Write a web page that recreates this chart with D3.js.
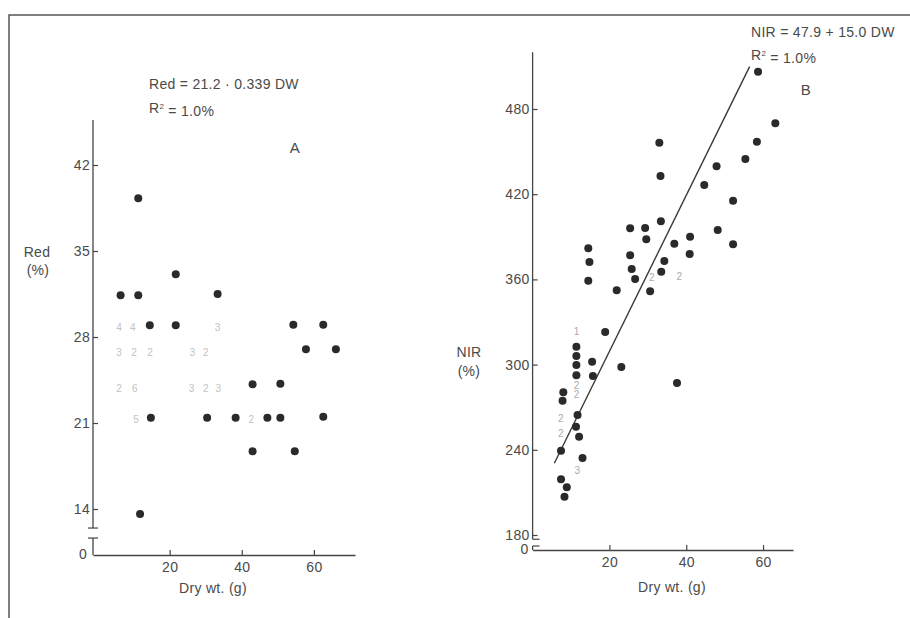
<!DOCTYPE html>
<html>
<head>
<meta charset="utf-8">
<script src="https://cdn.jsdelivr.net/npm/d3@7"></script>
<style>
  body { margin: 0; background: #fff; }
  svg { display: block; }
  text { font-family: "Liberation Sans", Arial, Helvetica, sans-serif; fill: #4a4a4a; letter-spacing: 0.3px; }
</style>
</head>
<body>
<svg id="chart" width="910" height="618"></svg>
<script>
// ---------- Data ----------
// Panel A: Red reflectance (%) vs dry weight (g)
const redX = [11.3, 21.7, 6.4, 11.3, 33.3, 14.5, 21.7, 54.3, 62.6, 57.8, 66.1, 43.0, 50.7,
              14.8, 30.4, 38.3, 47.1, 50.7, 62.6, 43.0, 54.7, 11.8];
const redY = [39.3, 33.1, 31.4, 31.4, 31.5, 28.95, 28.95, 29.0, 29.0, 27.0, 27.0, 24.15, 24.2,
              21.43, 21.43, 21.43, 21.43, 21.43, 21.5, 18.7, 18.7, 13.6];
// count labels (overlapping observations) in panel A
const redCountX = [6.0, 9.8, 33.3, 6.0, 10.2, 14.6, 26.3, 30.1, 6.0, 10.4, 26.1, 30.1, 33.5, 10.7, 42.7];
const redCountY = [28.8, 28.8, 28.8, 26.7, 26.7, 26.7, 26.7, 26.7, 23.8, 23.8, 23.8, 23.8, 23.8, 21.3, 21.3];
const redCountText = ["4", "4", "3", "3", "2", "2", "3", "2", "2", "6", "3", "2", "3", "5", "2"];

// Panel B: NIR reflectance (%) vs dry weight (g)
const nirX = [58.7, 63.2, 58.4, 33.0, 55.4, 33.3, 47.9, 44.7, 52.2, 33.4, 25.4, 29.3, 48.2, 29.6,
              41.0, 36.9, 52.2, 25.4, 40.9, 34.3, 25.8, 33.5, 26.7, 21.9, 30.6, 18.9, 23.1, 37.6,
              14.5, 14.8, 14.5, 11.4, 11.4, 11.4, 11.4, 15.5, 15.7, 8.0, 7.8, 11.7, 11.3, 12.1,
              7.4, 13.0, 7.4, 8.9, 8.3];
const nirY = [506.3, 470, 457, 456.3, 444.8, 432.8, 439.6, 426.5, 415.4, 400.9, 396, 396.2, 394.8, 388.2,
              390.1, 385.1, 384.7, 377, 377.9, 373, 367.3, 365.4, 360.3, 352.3, 351.6, 323, 298.3, 287,
              381.9, 372.3, 359.1, 312.6, 306, 299.7, 292.5, 302, 292, 280.5, 274.6, 264.5, 256.3, 249.2,
              239.4, 234.2, 219.2, 213.6, 207];
const nirCountX = [11.5, 11.5, 11.5, 7.4, 7.4, 11.7, 31.1, 38.2];
const nirCountY = [323.2, 285.6, 278.6, 262.2, 251.6, 225.4, 361.5, 361.9];
const nirCountText = ["1", "2", "2", "2", "2", "3", "2", "2"];
// fitted line endpoints (as drawn)
const nirLineX = [5.66, 56.5];
const nirLineY = [230.5, 509.8];

// ticks
const xTicks = [20, 40, 60];
const redYTicks = [14, 21, 28, 35, 42];
const nirYTicks = [180, 240, 300, 360, 420, 480];

// ---------- Drawing ----------
const svg = d3.select("#chart");
const ink = "#444";
const fs = "14px";

// frame
svg.append("path").attr("d", "M9,618 L9,15 L910,15")
  .attr("fill", "none").attr("stroke", "#555").attr("stroke-width", 1.5);

function styleAxis(g) {
  g.selectAll("line").attr("stroke", ink).attr("stroke-width", 1.2);
  g.selectAll("path").attr("stroke", ink).attr("stroke-width", 1.3);
  g.selectAll("text").attr("fill", "#4a4a4a").style("font-size", fs)
    .style("font-family", '"Liberation Sans", Arial, sans-serif');
}

// ===== Panel A =====
const xA = d3.scaleLinear().domain([-1.25, 71.4]).range([93, 355]);
const yA = d3.scaleLinear().domain([14, 42]).range([509, 165]);
const axisYA = 555;

const gyA = svg.append("g").attr("transform", `translate(${xA(-1.25)},0)`)
  .call(d3.axisLeft(yA).tickValues(redYTicks).tickSize(-5).tickPadding(3).tickFormat(d3.format("d")));
gyA.select(".domain").remove();
styleAxis(gyA);
const axA = xA(-1.25);
svg.append("line").attr("x1", axA).attr("x2", axA).attr("y1", yA(45.66)).attr("y2", yA(12.45))
  .attr("stroke", ink).attr("stroke-width", 1.3);
svg.append("line").attr("x1", axA - 5).attr("x2", axA + 5).attr("y1", yA(12.45)).attr("y2", yA(12.45))
  .attr("stroke", ink).attr("stroke-width", 1.2);
svg.append("line").attr("x1", axA).attr("x2", axA).attr("y1", yA(12.45) + 10).attr("y2", axisYA)
  .attr("stroke", ink).attr("stroke-width", 1.3);
svg.append("line").attr("x1", axA - 5).attr("x2", axA + 5).attr("y1", yA(12.45) + 10).attr("y2", yA(12.45) + 10)
  .attr("stroke", ink).attr("stroke-width", 1.2);
svg.append("text").attr("x", axA - 6).attr("y", axisYA).attr("dy", "0.32em")
  .attr("text-anchor", "end").style("font-size", fs).text("0");

const gxA = svg.append("g").attr("transform", `translate(0,${axisYA})`)
  .call(d3.axisBottom(xA).tickValues(xTicks).tickSizeInner(-5).tickSizeOuter(0).tickPadding(7));
styleAxis(gxA);

svg.append("g").selectAll("text").data(redCountText).join("text")
  .attr("x", (d, i) => xA(redCountX[i])).attr("y", (d, i) => yA(redCountY[i]))
  .attr("dy", "0.35em").attr("text-anchor", "middle")
  .style("font-size", "10px").style("fill", "#c2c2c2").text(d => d);

svg.append("g").selectAll("circle").data(redX).join("circle")
  .attr("cx", d => xA(d)).attr("cy", (d, i) => yA(redY[i])).attr("r", 4)
  .attr("fill", "#2a2a2a");

svg.append("text").attr("x", 37).attr("y", 257).attr("text-anchor", "middle").style("font-size", fs).text("Red");
svg.append("text").attr("x", 38).attr("y", 275).attr("text-anchor", "middle").style("font-size", fs).text("(%)");
svg.append("text").attr("x", 213).attr("y", 593).attr("text-anchor", "middle").style("font-size", fs).text("Dry wt. (g)");
svg.append("text").attr("x", 149).attr("y", 89).style("font-size", fs).text("Red = 21.2 · 0.339 DW");
const r2A = svg.append("text").attr("x", 149).attr("y", 113).style("font-size", fs);
r2A.append("tspan").text("R");
r2A.append("tspan").attr("dy", "-0.5em").style("font-size", "8px").text("2");
r2A.append("tspan").attr("dy", "0.5em").text(" = 1.0%");
svg.append("text").attr("x", 295).attr("y", 153).attr("text-anchor", "middle").style("font-size", "15px").text("A");

// ===== Panel B =====
const xB = d3.scaleLinear().domain([0, 67.8]).range([532.6, 793]);
const yB = d3.scaleLinear().domain([180, 480]).range([535, 109]);
const axisYB = 550;
const axB = xB(0);

const gyB = svg.append("g").attr("transform", `translate(${axB},0)`)
  .call(d3.axisLeft(yB).tickValues(nirYTicks).tickSize(-5).tickPadding(3).tickFormat(d3.format("d")));
gyB.select(".domain").remove();
styleAxis(gyB);
svg.append("line").attr("x1", axB).attr("x2", axB).attr("y1", yB(520)).attr("y2", yB(177))
  .attr("stroke", ink).attr("stroke-width", 1.3);
svg.append("line").attr("x1", axB).attr("x2", axB + 7).attr("y1", yB(177)).attr("y2", yB(177))
  .attr("stroke", ink).attr("stroke-width", 1.2);
svg.append("line").attr("x1", axB).attr("x2", axB).attr("y1", axisYB - 4).attr("y2", axisYB)
  .attr("stroke", ink).attr("stroke-width", 1.3);
svg.append("line").attr("x1", axB).attr("x2", axB + 7).attr("y1", axisYB - 4).attr("y2", axisYB - 4)
  .attr("stroke", ink).attr("stroke-width", 1.2);
svg.append("text").attr("x", axB - 4).attr("y", axisYB).attr("dy", "0.32em")
  .attr("text-anchor", "end").style("font-size", fs).text("0");

const gxB = svg.append("g").attr("transform", `translate(0,${axisYB})`)
  .call(d3.axisBottom(xB).tickValues(xTicks).tickSizeInner(-5).tickSizeOuter(0).tickPadding(7));
styleAxis(gxB);

svg.append("line")
  .attr("x1", xB(nirLineX[0])).attr("y1", yB(nirLineY[0]))
  .attr("x2", xB(nirLineX[1])).attr("y2", yB(nirLineY[1]))
  .attr("stroke", "#3a3a3a").attr("stroke-width", 1.4);

svg.append("g").selectAll("text").data(nirCountText).join("text")
  .attr("x", (d, i) => xB(nirCountX[i])).attr("y", (d, i) => yB(nirCountY[i]))
  .attr("dy", "0.35em").attr("text-anchor", "middle")
  .style("font-size", "10px").style("fill", "#ababab").text(d => d);

svg.append("g").selectAll("circle").data(nirX).join("circle")
  .attr("cx", d => xB(d)).attr("cy", (d, i) => yB(nirY[i])).attr("r", 4)
  .attr("fill", "#2a2a2a");

svg.append("text").attr("x", 469).attr("y", 357).attr("text-anchor", "middle").style("font-size", fs).text("NIR");
svg.append("text").attr("x", 469).attr("y", 376).attr("text-anchor", "middle").style("font-size", fs).text("(%)");
svg.append("text").attr("x", 672).attr("y", 592).attr("text-anchor", "middle").style("font-size", fs).text("Dry wt. (g)");
svg.append("text").attr("x", 751).attr("y", 37).style("font-size", fs).text("NIR = 47.9 + 15.0 DW");
const r2B = svg.append("text").attr("x", 751).attr("y", 60).style("font-size", fs);
r2B.append("tspan").text("R");
r2B.append("tspan").attr("dy", "-0.5em").style("font-size", "8px").text("2");
r2B.append("tspan").attr("dy", "0.5em").text(" = 1.0%");
svg.append("text").attr("x", 806).attr("y", 95).attr("text-anchor", "middle").style("font-size", "15px").text("B");
</script>
</body>
</html>
